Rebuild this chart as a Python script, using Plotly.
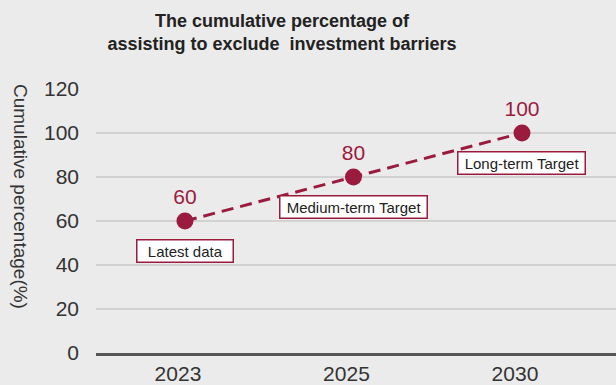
import plotly.graph_objects as go

years = ["2023", "2025", "2030"]
values = [60, 80, 100]
value_labels = ["60", "80", "100"]
box_labels = ["Latest data", "Medium-term Target", "Long-term Target"]
y_ticks = [0, 20, 40, 60, 80, 100, 120]

MAROON = "#9B1B3F"
BG = "#EBEBEB"
FONT = "Arial, Liberation Sans, sans-serif"

fig = go.Figure()
fig.add_trace(go.Scatter(
    x=years, y=values,
    mode="lines+markers+text",
    text=value_labels,
    textposition="top center",
    textfont=dict(size=21, color=MAROON, family=FONT),
    line=dict(color=MAROON, width=3, dash="12px,7px"),
    marker=dict(color=MAROON, size=17),
    cliponaxis=False,
    hoverinfo="skip",
))

pads = ["&nbsp;&nbsp;", "&nbsp;", "&nbsp;"]
for i, (v, lab, p) in enumerate(zip(values, box_labels, pads)):
    fig.add_annotation(
        x=i, y=v, xref="x", yref="y",
        text=p + lab + p, showarrow=False, yshift=-30,
        font=dict(size=15, color="#222222", family=FONT),
        bgcolor="white", bordercolor=MAROON, borderwidth=1.5, borderpad=2,
    )

fig.add_annotation(
    x=(21 - 96) / 520, y=(353 - 196) / 264, xref="paper", yref="paper",
    text="Cumulative percentage(%)", textangle=90, showarrow=False,
    font=dict(size=19, color="#333333", family=FONT),
    xanchor="center", yanchor="middle",
)

fig.update_layout(
    width=616, height=385,
    paper_bgcolor=BG, plot_bgcolor=BG,
    margin=dict(l=96, r=0, t=89, b=32),
    showlegend=False,
    title=dict(
        text="<b>The cumulative percentage of<br>assisting to exclude  investment barriers</b>",
        x=282 / 616, xanchor="center", xref="container",
        y=1 - 27 / 385, yanchor="top", yref="container",
        font=dict(size=18, color="#222222", family=FONT),
    ),
    xaxis=dict(
        type="category", range=[-0.528, 2.558], automargin=False,
        showgrid=False, zeroline=False,
        showline=True, linecolor="#555555", linewidth=3,
        ticks="", tickfont=dict(size=21, color="#333333", family=FONT),
        ticklabelshift=-7, ticklabelstandoff=0,
    ),
    yaxis=dict(
        range=[0, 120], tickvals=y_ticks, automargin=False,
        showgrid=True, gridcolor="#D2D2D2", gridwidth=1.5,
        zeroline=False, showline=False,
        ticks="", tickfont=dict(size=21, color="#333333", family=FONT),
        ticklabelstandoff=16,
    ),
)

fig.write_html("out.html", config={"displayModeBar": False},
               post_script="document.body.style.margin='0';")
